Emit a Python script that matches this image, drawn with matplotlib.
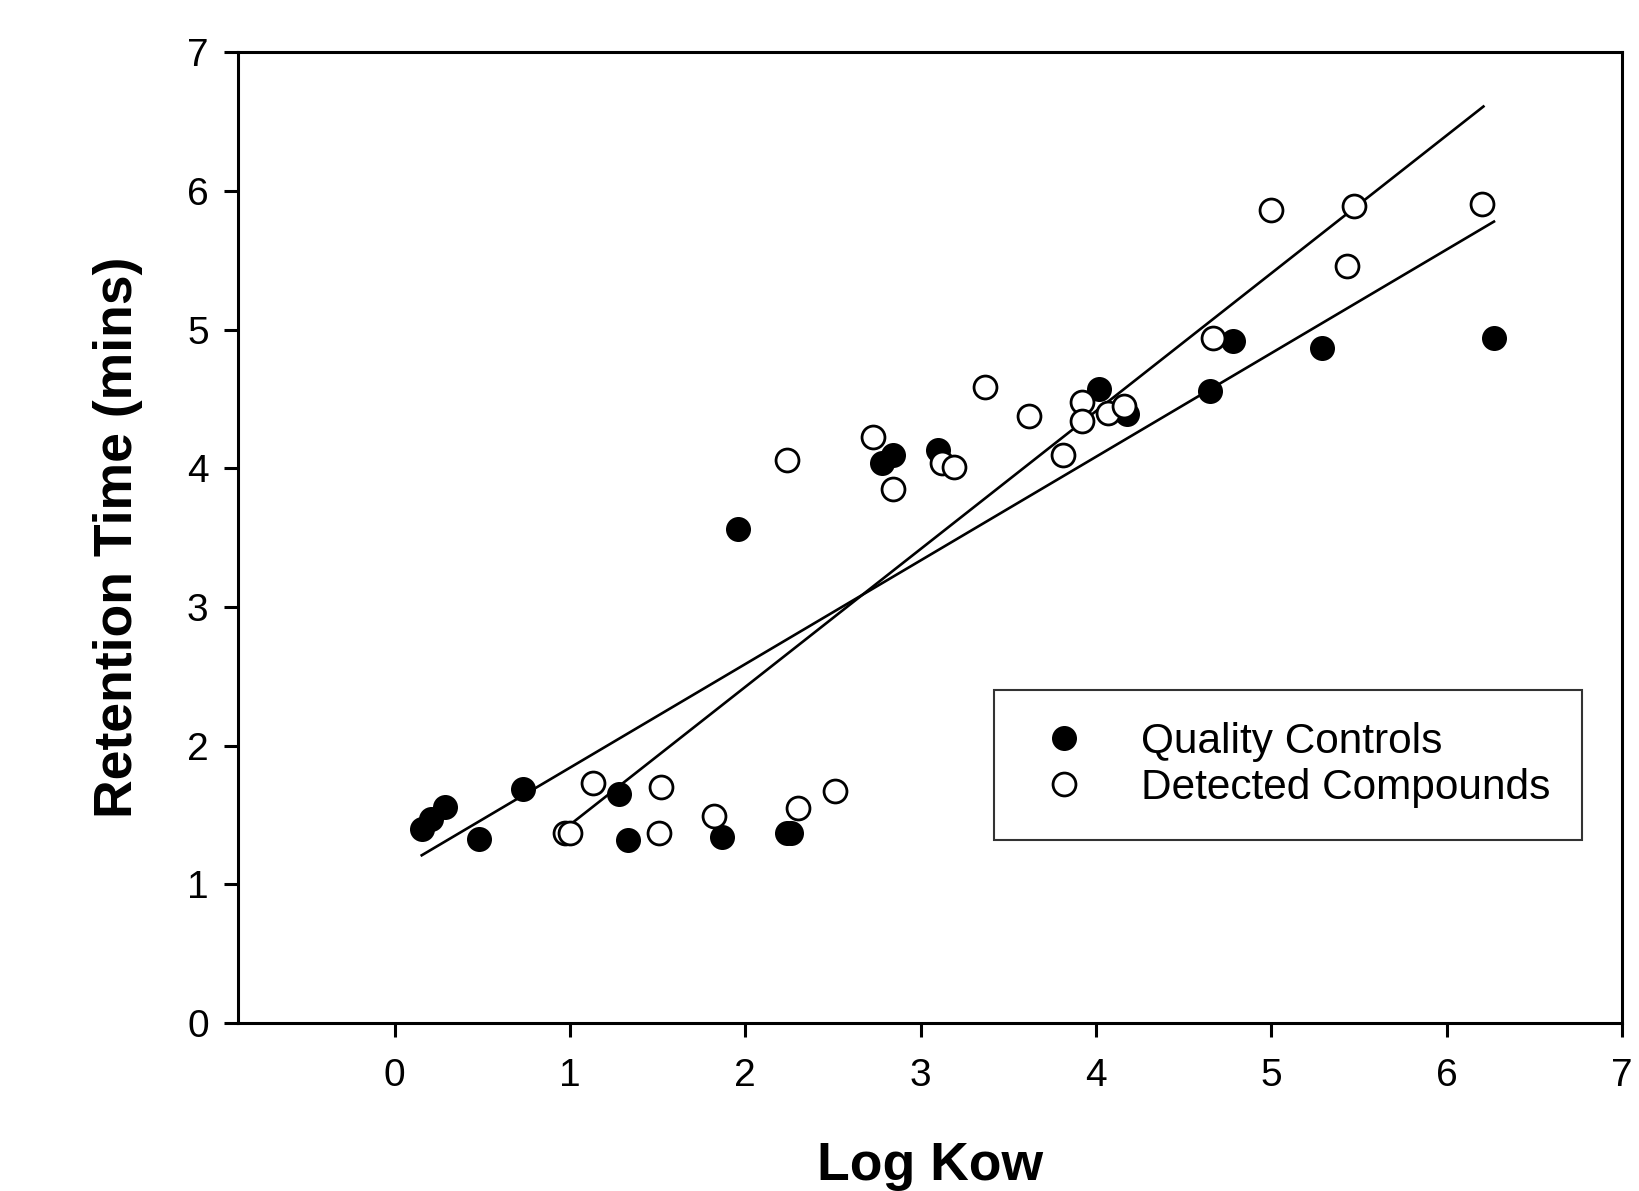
import matplotlib
matplotlib.use("Agg")
import matplotlib.pyplot as plt

plt.rcParams['font.family'] = ['Liberation Sans', 'DejaVu Sans']

# Quality Controls (filled)
qc_x = [0.155, 0.21, 0.29, 0.48, 0.73, 1.28, 1.33, 1.87, 1.96, 2.24, 2.26,
        2.78, 2.84, 3.10, 4.02, 4.18, 4.65, 4.78, 5.29, 6.27]
qc_y = [1.40, 1.47, 1.56, 1.33, 1.69, 1.65, 1.32, 1.34, 3.56, 1.37, 1.37,
        4.04, 4.10, 4.13, 4.57, 4.39, 4.56, 4.92, 4.87, 4.94]

# Detected Compounds (open)
dc_x = [0.97, 1.00, 1.13, 1.51, 1.52, 1.82, 2.24, 2.30, 2.51, 2.73, 2.84,
        3.12, 3.19, 3.37, 3.62, 3.81, 3.92, 3.92, 4.07, 4.16, 4.67, 5.00,
        5.43, 5.47, 6.20]
dc_y = [1.37, 1.37, 1.73, 1.37, 1.70, 1.49, 4.06, 1.55, 1.67, 4.23, 3.85,
        4.04, 4.01, 4.59, 4.38, 4.10, 4.48, 4.34, 4.40, 4.45, 4.94, 5.86,
        5.46, 5.89, 5.91]

# regression lines (end points)
qc_fit_x = [0.155, 6.27]
qc_fit_y = [1.21, 5.78]
dc_fit_x = [0.97, 6.21]
dc_fit_y = [1.40, 6.61]

xticks = [0, 1, 2, 3, 4, 5, 6, 7]
yticks = [0, 1, 2, 3, 4, 5, 6, 7]

fig = plt.figure(figsize=(16.4, 11.91), dpi=100)
ax = fig.add_axes([0.145, 0.141, 0.844, 0.815])

ax.plot(qc_fit_x, qc_fit_y, color='black', lw=1.9, zorder=1)
ax.plot(dc_fit_x, dc_fit_y, color='black', lw=1.9, zorder=1)

ax.plot(qc_x, qc_y, 'o', ms=16.5, mfc='black', mec='black', mew=1.5,
        ls='none', label='Quality Controls', zorder=3)
ax.plot(dc_x, dc_y, 'o', ms=16.5, mfc='white', mec='black', mew=2.0,
        ls='none', label='Detected Compounds', zorder=4)

ax.set_xlim(-0.894, 7)
ax.set_ylim(0, 7)
ax.set_xticks(xticks)
ax.set_yticks(yticks)

for s in ax.spines.values():
    s.set_linewidth(2.2)
ax.tick_params(direction='out', length=10, width=2.2, labelsize=28)
ax.tick_params(axis='x', pad=15)
ax.tick_params(axis='y', pad=11)

ax.set_xlabel('Log Kow', fontsize=38.5, fontweight='bold')
ax.set_ylabel('Retention Time (mins)', fontsize=38.5, fontweight='bold')
ax.xaxis.set_label_coords(0.5, -0.147)
ax.xaxis.label.set_va('center')
ax.yaxis.set_label_coords(-0.0864, 0.5)
ax.yaxis.label.set_va('center')

leg = ax.legend(loc='upper left', bbox_to_anchor=(0.5465, 0.343),
                fontsize=30.5, frameon=True, fancybox=False, borderpad=0.75,
                handlelength=1.8, handletextpad=0.92, labelspacing=0.15,
                borderaxespad=0)
leg.get_frame().set_edgecolor('black')
leg.get_frame().set_linewidth(1.5)

fig.savefig('out.png', dpi=100)
